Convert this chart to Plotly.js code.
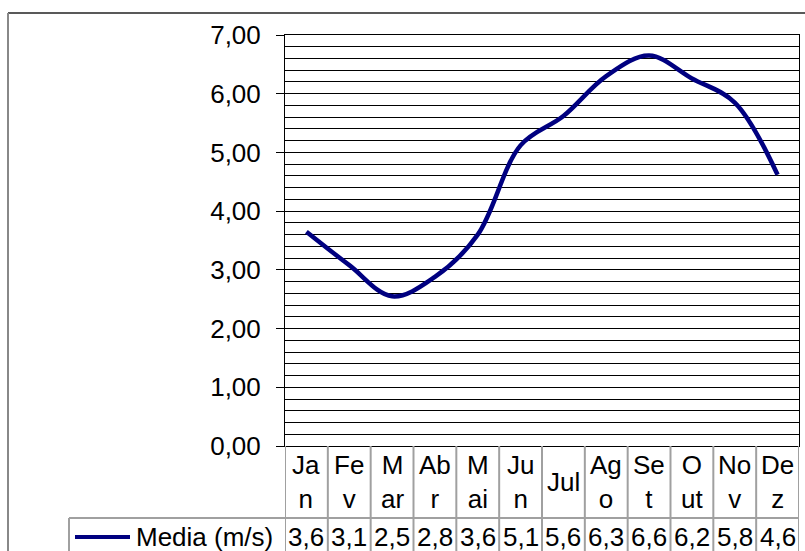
<!DOCTYPE html>
<html>
<head>
<meta charset="utf-8">
<script src="https://cdn.plot.ly/plotly-3.0.1.min.js"></script>
<style>html,body{margin:0;padding:0;background:#fff;}#chart{width:805px;height:551px;}</style>
</head>
<body>
<div id="chart"></div>
<script>
const categories = ["Jan","Fev","Mar","Abr","Mai","Jun","Jul","Ago","Set","Out","Nov","Dez"];
const categoryLabels = ["Ja<br>n","Fe<br>v","M<br>ar","Ab<br>r","M<br>ai","Ju<br>n","Jul","Ag<br>o","Se<br>t","O<br>ut","No<br>v","De<br>z"];
const media = [3.65, 3.08, 2.55, 2.88, 3.6, 5.12, 5.62, 6.3, 6.65, 6.26, 5.85, 4.62];
const tableLabels = ["3,6","3,1","2,5","2,8","3,6","5,1","5,6","6,3","6,6","6,2","5,8","4,6"];
const seriesName = "Media (m/s)";

const FONT = "Liberation Sans, Arial, sans-serif";
const FS = 26;
const W = 805, H = 551, L = 285, R = 6, T = 35, B = 105;
const pw = W - L - R, ph = H - T - B;
const px = X => (X - L) / pw;            // pixel x -> paper x
const py = Y => (H - B - Y) / ph;        // pixel y -> paper y

const catRowY = py(482), valRowY = py(537), rowSplit = py(518), tableBottom = py(600);
const gridGray = "#a0a0a0";

const shapes = [];
const annotations = [];

// table column boundaries
for (let i = 0; i <= categories.length; i++) {
  shapes.push({type:"line", xref:"x", yref:"paper", x0:i-0.5, x1:i-0.5, y0:0, y1:tableBottom,
    line:{color:gridGray, width:2}});
}
// row separator and legend cell
shapes.push({type:"line", xref:"paper", yref:"paper", x0:px(69), x1:1, y0:rowSplit, y1:rowSplit, line:{color:gridGray, width:2}});
shapes.push({type:"line", xref:"paper", yref:"paper", x0:px(69), x1:px(69), y0:rowSplit, y1:tableBottom, line:{color:gridGray, width:2}});
// legend key
shapes.push({type:"line", xref:"paper", yref:"paper", x0:px(75), x1:px(130), y0:valRowY, y1:valRowY, line:{color:"#000080", width:4}});
// outer chart border
shapes.push({type:"line", xref:"paper", yref:"paper", x0:px(8), x1:px(815), y0:py(13), y1:py(13), line:{color:"#222", width:1.5}});
shapes.push({type:"line", xref:"paper", yref:"paper", x0:px(8), x1:px(8), y0:py(13), y1:tableBottom, line:{color:"#888", width:2}});

categories.forEach((c, i) => {
  annotations.push({xref:"x", yref:"paper", x:i, y:catRowY, text:categoryLabels[i], showarrow:false,
    xanchor:"center", yanchor:"middle", font:{family:FONT, size:FS, color:"#000"}});
  annotations.push({xref:"x", yref:"paper", x:i, y:valRowY, text:tableLabels[i], showarrow:false,
    xanchor:"center", yanchor:"middle", font:{family:FONT, size:FS, color:"#000"}});
});
annotations.push({xref:"paper", yref:"paper", x:px(134), y:valRowY, text:seriesName, showarrow:false,
  xanchor:"left", yanchor:"middle", font:{family:FONT, size:FS, color:"#000"}});

const trace = {
  x: categories, y: media, type:"scatter", mode:"lines", name: seriesName,
  line:{color:"#000080", width:4.5, shape:"spline", smoothing:1},
  hoverinfo:"skip"
};

const layout = {
  width:W, height:H,
  margin:{l:L, r:R, t:T, b:B, pad:0},
  paper_bgcolor:"#fff", plot_bgcolor:"#fff",
  separators:",.",
  showlegend:false,
  font:{family:FONT, size:FS, color:"#000"},
  xaxis:{type:"category", range:[-0.5, 11.5], showticklabels:false, showgrid:false, zeroline:false,
    showline:true, mirror:true, linecolor:"#000", linewidth:1, ticks:"", fixedrange:true},
  yaxis:{range:[0,7], dtick:1, tick0:0, tickformat:".2f", ticks:"outside", ticklen:8, tickcolor:"#000",
    ticklabelstandoff:10,
    showgrid:true, gridcolor:"#000", gridwidth:1, zeroline:false,
    showline:true, mirror:true, linecolor:"#000", linewidth:1,
    minor:{dtick:0.2, showgrid:true, gridcolor:"#000", gridwidth:1, ticks:""},
    tickfont:{family:FONT, size:FS, color:"#000"}, fixedrange:true},
  shapes:shapes,
  annotations:annotations
};

Plotly.newPlot("chart", [trace], layout, {staticPlot:true, displayModeBar:false});
</script>
</body>
</html>
